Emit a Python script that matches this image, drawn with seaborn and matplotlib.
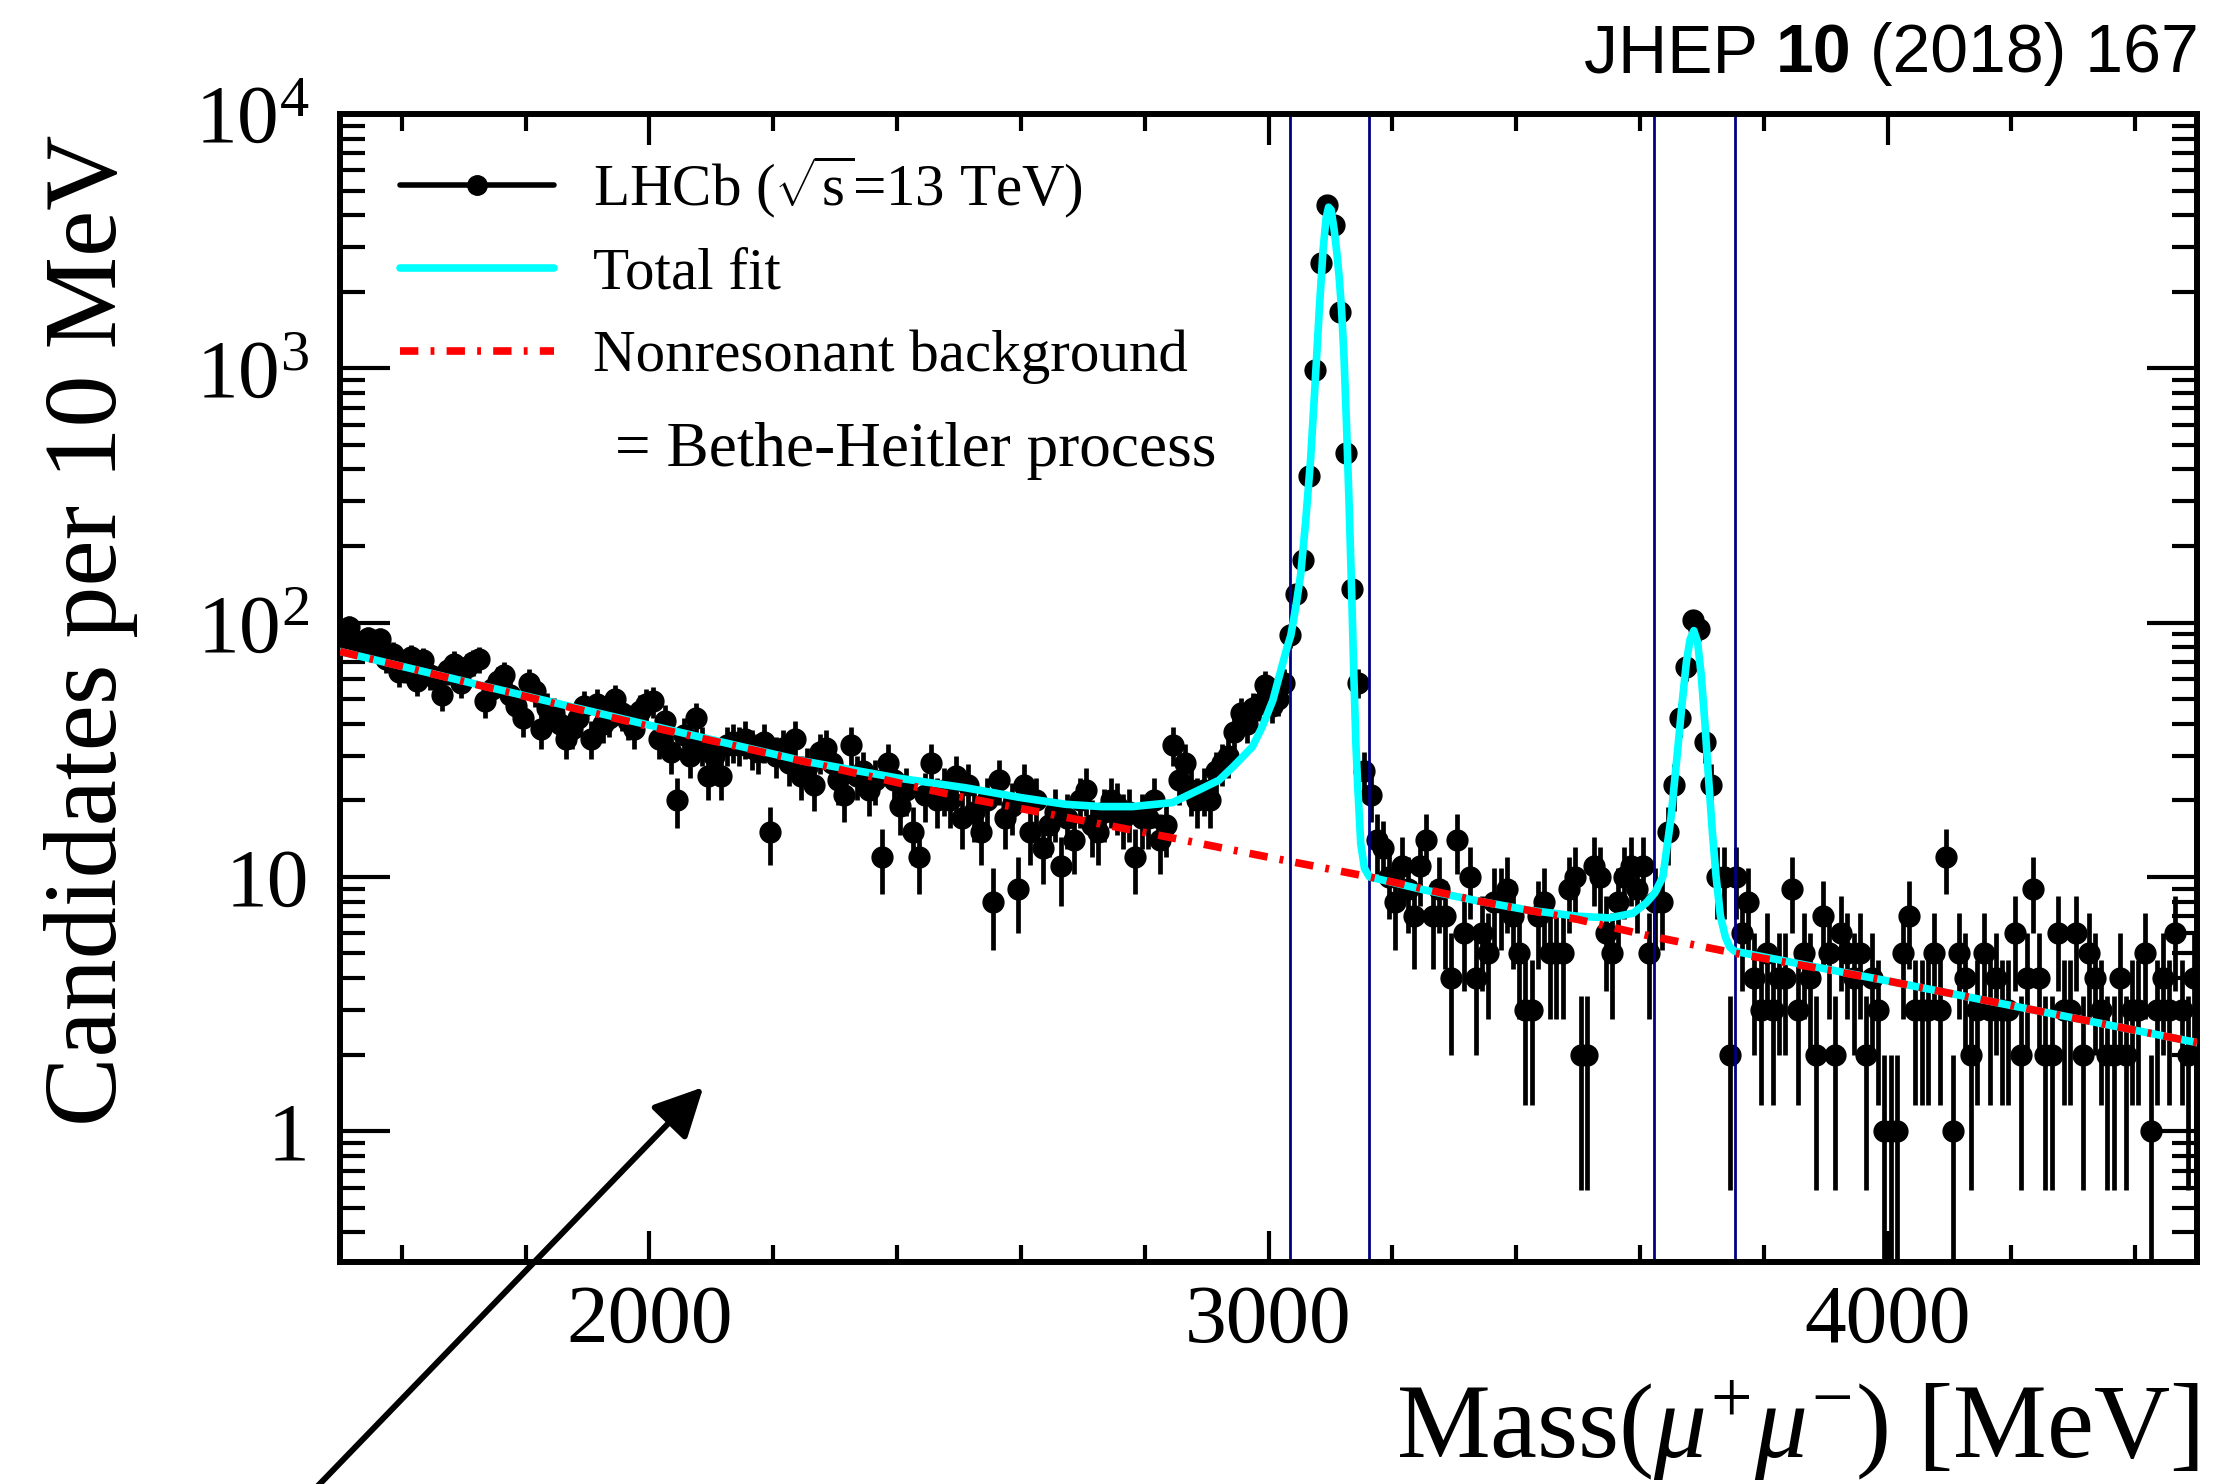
import numpy as np
import pandas as pd
import matplotlib
matplotlib.use('Agg')
import matplotlib.pyplot as plt
from matplotlib.lines import Line2D
from matplotlib.ticker import MultipleLocator, LogLocator, NullFormatter
import seaborn as sns

# ---- data ---------------------------------------------------------------
# dimuon candidates per 10 MeV bin, bins from 1500 to 4500 MeV
bin_centres = np.arange(1505, 4500, 10)
counts = [
    # 1500 - 2000
    91, 96, 85, 80, 87, 80, 86, 72, 75, 64,
    66, 73, 59, 71, 62, 60, 52, 65, 69, 58,
    67, 70, 72, 49, 55, 59, 62, 52, 47, 42,
    58, 54, 38, 46, 44, 40, 35, 38, 42, 47,
    35, 48, 40, 42, 50, 44, 41, 38, 45, 48,
    # 2000 - 2500
    49, 35, 41, 31, 20, 36, 30, 42, 33, 25,
    30, 25, 33, 34, 33, 35, 32, 31, 34, 15,
    30, 32, 28, 35, 25, 27, 23, 31, 32, 28,
    24, 21, 33, 25, 26, 22, 24, 12, 28, 24,
    19, 22, 15, 12, 21, 28, 20, 22, 20, 25,
    # 2500 - 3000
    17, 23, 18, 15, 20, 8, 24, 17, 19, 9,
    23, 15, 20, 13, 16, 18, 11, 17, 14, 20,
    22, 16, 15, 18, 20, 19, 17, 18, 12, 17,
    17, 20, 14, 16, 33, 24, 28, 22, 20, 22,
    20, 26, 28, 30, 37, 44, 40, 46, 48, 57,
    # 3000 - 3500
    47, 50, 58, 89, 129, 176, 377, 986, 2600, 4400,
    3660, 1670, 463, 136, 58, 26, 21, 14, 13, 10,
    8, 11, 9, 7, 11, 14, 7, 9, 7, 4,
    14, 6, 10, 4, 6, 5, 8, 8, 9, 7,
    5, 3, 3, 7, 8, 5, 5, 5, 9, 10,
    # 3500 - 4000
    2, 2, 11, 10, 6, 5, 8, 10, 11, 9,
    11, 5, 8, 8, 15, 23, 42, 67, 102, 94,
    34, 23, 10, 10, 2, 10, 6, 8, 4, 3,
    5, 3, 4, 4, 9, 3, 5, 4, 2, 7,
    5, 2, 6, 5, 4, 5, 2, 4, 3, 1,
    # 4000 - 4500
    1, 1, 5, 7, 3, 3, 3, 5, 3, 12,
    1, 5, 4, 2, 3, 5, 3, 4, 3, 3,
    6, 2, 4, 9, 4, 2, 2, 6, 3, 3,
    6, 2, 5, 4, 3, 2, 2, 4, 2, 3,
    3, 5, 1, 3, 4, 3, 6, 3, 2, 4,
]

# total fit curve (cyan)
fit_mass = [1500, 1750, 2000, 2250, 2400, 2511, 2600, 2672, 2730, 2780,
            2845, 2888, 2920, 2942, 2958, 2974, 2990, 3007, 3020, 3030,
            3036, 3044, 3052, 3060, 3068, 3075, 3082, 3088, 3093, 3097,
            3101, 3106, 3110, 3114, 3118, 3122, 3126, 3130, 3134, 3138,
            3141, 3144, 3149, 3155, 3163, 3250, 3343, 3420, 3500, 3551,
            3589, 3610, 3624, 3637, 3650, 3660, 3668, 3675, 3681, 3687,
            3693, 3699, 3705, 3711, 3717, 3723, 3730, 3738, 3745, 3753,
            4000, 4250, 4500]
fit_total = [77, 55, 39.5, 28.5, 24.5, 22.4, 20.5, 19.3, 18.9, 18.9,
             19.6, 22, 24, 27, 29.6, 32.5, 39, 49.5, 65, 80,
             89, 115, 155, 250, 440, 850, 1700, 2900, 3900, 4300,
             4200, 3500, 2900, 2300, 1700, 1100, 600, 300, 140, 60,
             34, 23, 13.5, 10.8, 10, 8.9, 8.0, 7.4, 7.0, 6.9,
             7.2, 7.9, 8.65, 10, 17, 30, 48, 70, 86, 93,
             84, 62, 40, 24, 15, 10, 7, 5.8, 5.3, 5.1,
             3.9, 2.95, 2.23]

# nonresonant (Bethe-Heitler) background (red)
bkg_mass = [1500, 2000, 2500, 2834, 3004, 3163, 3343, 3500, 3610, 3756,
            4000, 4250, 4500]
bkg_vals = [77, 39, 20.7, 14.4, 11.9, 10, 8.0, 6.8, 5.9, 5.0,
            3.9, 2.95, 2.23]

# mass windows around J/psi and psi(2S)
window_edges = [3035, 3163, 3623, 3753]

# ---- style ---------------------------------------------------------------
sns.set_style('ticks')
plt.rcParams['font.family'] = ['Liberation Serif', 'DejaVu Serif']
plt.rcParams['mathtext.fontset'] = 'custom'
plt.rcParams['mathtext.rm'] = 'Liberation Serif'
plt.rcParams['mathtext.it'] = 'Liberation Serif:italic'
plt.rcParams['mathtext.bf'] = 'Liberation Serif:bold'
for key in ['text.color', 'axes.labelcolor', 'xtick.color', 'ytick.color',
            'axes.edgecolor']:
    plt.rcParams[key] = 'black'

fig = plt.figure(figsize=(22.29, 14.84), dpi=100)
fig.patch.set_facecolor('white')
ax = fig.add_axes([0.1525, 0.1496, 0.8332, 0.7736])
ax.set_facecolor('white')
ax.set_yscale('log')

bkg_dash = (0, (2.4, 1.6, 0.5, 1.6))

# data points with sqrt(N) errors
counts = np.array(counts, dtype=float)
err = np.sqrt(counts)
lower = counts - np.clip(counts - err, 1e-3, None)
ax.errorbar(bin_centres, counts, yerr=[lower, err], fmt='o', ms=15,
            color='black', ecolor='black', elinewidth=3.4, capsize=0, zorder=2)

for x in window_edges:
    ax.axvline(x, color='#000080', lw=2, zorder=2.5)

fit_df = pd.DataFrame({'mass': fit_mass, 'val': fit_total})
bkg_df = pd.DataFrame({'mass': bkg_mass, 'val': bkg_vals})
sns.lineplot(data=fit_df, x='mass', y='val', ax=ax, color='cyan', linewidth=5.5,
             estimator=None, sort=False, zorder=4)
sns.lineplot(data=bkg_df, x='mass', y='val', ax=ax, color='red', linewidth=5.5,
             linestyle=bkg_dash, estimator=None, sort=False, zorder=5)

# ---- axes ----------------------------------------------------------------
ax.set_xlim(1500, 4500)
ax.set_ylim(0.306, 1e4)
ax.set_xlabel('')
ax.set_ylabel('')

ax.xaxis.set_major_locator(MultipleLocator(1000))
ax.xaxis.set_minor_locator(MultipleLocator(200))
ax.set_yticks([1, 10, 100, 1000, 10000])
ax.set_yticklabels(['1', '10', r'$\mathregular{10^{2}}$',
                    r'$\mathregular{10^{3}}$', r'$\mathregular{10^{4}}$'])
ax.yaxis.set_minor_locator(LogLocator(base=10, subs=range(2, 10)))
ax.yaxis.set_minor_formatter(NullFormatter())

ax.tick_params(which='both', direction='in', top=True, right=True,
               labelsize=60, width=3, color='black', labelcolor='black')
ax.tick_params(axis='x', which='major', length=22, pad=16)
ax.tick_params(axis='x', which='minor', length=12)
ax.tick_params(axis='y', which='major', length=36, pad=22)
ax.tick_params(axis='y', which='minor', length=18)
for sp in ax.spines.values():
    sp.set_linewidth(4.3)
    sp.set_color('black')

# ---- legend --------------------------------------------------------------
handles = [Line2D([], [], color='black', marker='o', ms=14, lw=4),
           Line2D([], [], color='cyan', lw=5.5),
           Line2D([], [], color='red', lw=5.5, linestyle=bkg_dash)]
labels = [r'LHCb ($\sqrt{\mathrm{s}}$=13 TeV)', 'Total fit',
          'Nonresonant background']
ax.legend(handles, labels, loc='upper left', bbox_to_anchor=(0.0326, 0.966),
          frameon=False, fontsize=42.5, handlelength=2.6, handletextpad=0.66,
          labelspacing=0.47, borderpad=0, borderaxespad=0, numpoints=1)
ax.text(0.148, 0.706, '= Bethe-Heitler process', transform=ax.transAxes,
        fontsize=45.5, va='center', ha='left')

# arrow coming from outside the frame
ax.annotate('', xy=(2087, 1.49), xycoords='data',
            xytext=(0.137, -0.01), textcoords='figure fraction',
            arrowprops=dict(arrowstyle='-|>,head_length=1.0,head_width=0.5',
                            lw=4.3, color='black', shrinkA=0, shrinkB=0,
                            mutation_scale=30),
            annotation_clip=False)

# axis titles
fig.text(0.041, 0.909, 'Candidates per 10 MeV', rotation=90, fontsize=75,
         ha='center', va='top')
fig.text(0.9865, 0.018, r'Mass($\mu^{+}\mu^{-}$) [MeV]', fontsize=76,
         ha='right', va='baseline')

# journal reference
t3 = fig.text(0.9865, 0.9636, ' (2018) 167', ha='right', va='center',
              family='Liberation Sans', fontsize=49)
t2 = ax.annotate('10', xy=(0, 0), xycoords=t3, ha='right', va='bottom',
                 family='Liberation Sans', fontsize=49, fontweight='bold',
                 annotation_clip=False)
ax.annotate('JHEP ', xy=(0, 0), xycoords=t2, ha='right', va='bottom',
            family='Liberation Sans', fontsize=49, annotation_clip=False)

fig.savefig('out.png', dpi=100, facecolor='white')
